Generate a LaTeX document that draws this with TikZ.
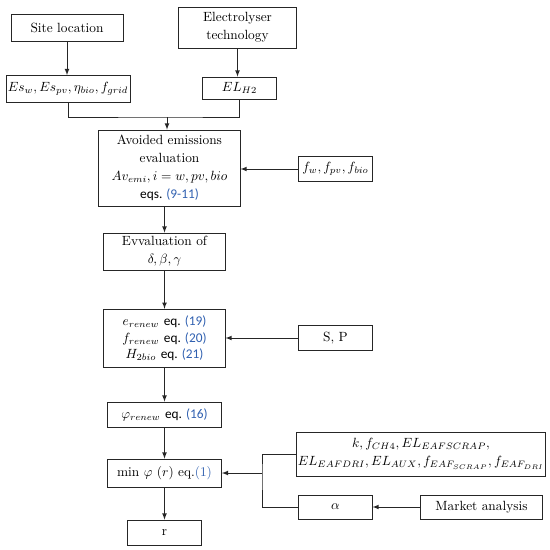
\documentclass[tikz,border=0pt]{standalone}
\usepackage{amsmath}
\usepackage{amssymb}
\usepackage{xcolor}
\usepackage{fontspec}
\usepackage{tikz}

\newfontfamily\eqfont{Carlito}
\definecolor{eqblue}{RGB}{48,96,176}
\newcommand{\eqnum}[2]{{\eqfont #1 \textcolor{eqblue}{#2}}}

\begin{document}
\begin{tikzpicture}[x=0.75pt, y=-0.75pt, >=latex]
        \tikzstyle{box}=[rectangle, draw=black!85, line width=0.6pt, align=center, inner sep=1pt, font=\fontsize{10}{13.5}\selectfont]
        \tikzstyle{link}=[draw=black!85, line width=0.6pt]
        \useasboundingbox (0,0) rectangle (550,550);

        % Nodes
        \node[box, minimum width=84pt, minimum height=20.25pt] (site) at (67, 27.5) {Site location};
        \node[box, minimum width=89pt, minimum height=30.75pt] (elec) at (237.5, 27.5) {Electrolyser\\technology};

        \node[box, minimum width=93pt, minimum height=20.25pt] (es) at (68, 89) {$Es_{w}, Es_{pv}, \eta_{bio}, f_{grid}$};
        \node[box, minimum width=55pt, minimum height=16.5pt] (elh) at (239.5, 88) {$EL_{H2}$};

        \node[box, minimum width=106pt, minimum height=57pt] (avoid) at (169.5, 168) {Avoided emissions\\evaluation\\$Av_{emi}, i = w, pv, bio$\\\eqnum{eqs.}{(9-11)}};
        \node[box, minimum width=55pt, minimum height=18.75pt] (fw) at (335.5, 169) {$f_{w}, f_{pv}, f_{bio}$};

        \node[box, minimum width=91pt, minimum height=27.75pt] (evalb) at (164.5, 251.5) {Evvaluation of\\$\delta, \beta, \gamma$};

        \node[box, minimum width=91pt, minimum height=44pt, font=\fontsize{10}{12.5}\selectfont] (renew) at (164.5, 338.5) {$e_{renew}$ \eqnum{eq.}{(19)}\\$f_{renew}$ \eqnum{eq.}{(20)}\\$H_{2bio}$ \eqnum{eq.}{(21)}};
        \node[box, minimum width=55pt, minimum height=18.75pt] (sp) at (335.5, 338) {S, P};

        \node[box, minimum width=85.5pt, minimum height=18.75pt] (phi) at (164.5, 414.5) {$\varphi_{renew}$ \eqnum{eq.}{(16)}};

        \node[box, minimum width=85.5pt, minimum height=21pt] (min) at (164.5, 473) {min $\varphi\ (r)$ eq.\textcolor{eqblue}{(1)}};
        \node[box, minimum width=183pt, minimum height=33pt] (kpar) at (421, 454) {$k, f_{CH4}, EL_{EAFSCRAP},$\\$EL_{EAFDRI}, EL_{AUX}, f_{EAF_{SCRAP}}, f_{EAF_{DRI}}$};
        \node[box, minimum width=55pt, minimum height=18pt] (alpha) at (335.5, 507) {$\alpha$};
        \node[box, minimum width=91pt, minimum height=18pt] (market) at (481.5, 507) {Market analysis};

        \node[box, minimum width=55.5pt, minimum height=18.75pt] (r) at (164.5, 532.5) {r};

        \coordinate (j1) at (167, 117);
        \coordinate (j2) at (262, 473);

        % Edges
        \draw[link, ->] (site) -- (site |- es.north);
        \draw[link, ->] (elec) -- (elec |- elh.north);

        \draw[link] (es.south) |- (j1) -| (elh.south);
        \draw[link, ->] (j1) -- (j1 |- avoid.north);

        \draw[link, ->] (fw.west) -- (fw.west -| avoid.east);
        \draw[link, ->] (avoid.south -| evalb) -- (evalb.north);
        \draw[link, ->] (evalb) -- (renew);
        \draw[link, ->] (sp.west) -- (sp.west -| renew.east);
        \draw[link, ->] (renew) -- (phi);
        \draw[link, ->] (phi) -- (min);
        \draw[link, ->] (min) -- (r);

        \draw[link] (kpar.west) -| (j2) |- (alpha.west);
        \draw[link, ->] (j2) -- (min.east);
        \draw[link, ->] (market) -- (alpha);

    \end{tikzpicture}
\end{document}
